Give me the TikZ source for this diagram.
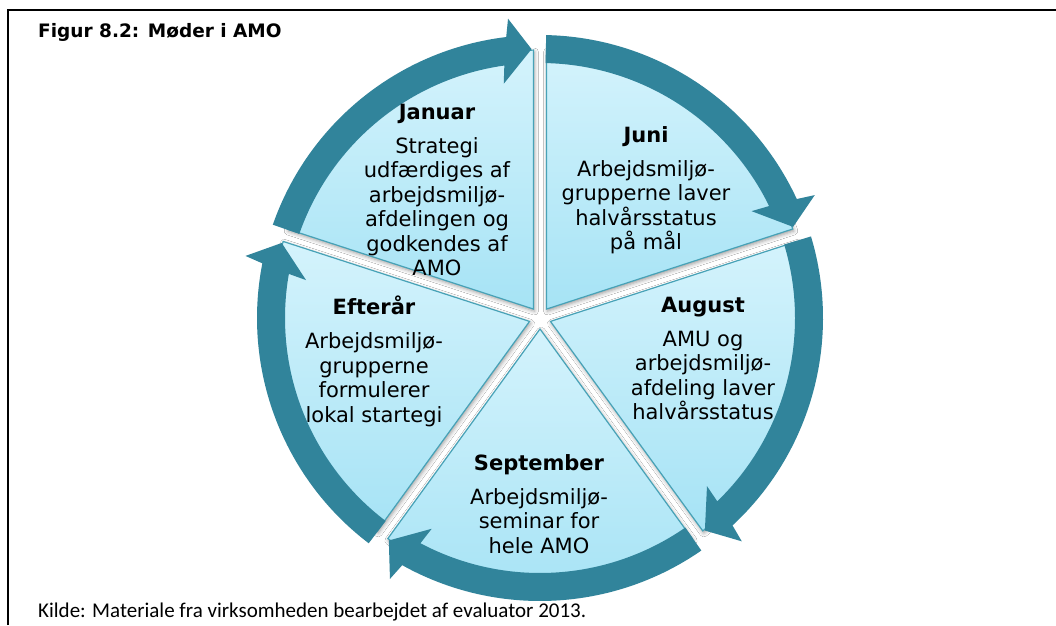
\documentclass[tikz,border=0pt]{standalone}
\usepackage{fontspec}
\setmainfont{DejaVu Sans}
\newfontfamily\capfont{Carlito}
\usetikzlibrary{shadows.blur}

\definecolor{ring}{HTML}{31849B}
\definecolor{wedgetop}{HTML}{D4F3FC}
\definecolor{wedgebot}{HTML}{A6E3F5}
\definecolor{wedgeline}{HTML}{47A2B7}

\tikzset{
  wedgeshadow/.style={blur shadow={shadow xshift=1pt, shadow yshift=-2pt,
      shadow blur radius=4pt, shadow opacity=40}},
  wedge/.style={draw=wedgeline, line width=1.2pt,
      top color=wedgetop, bottom color=wedgebot},
  ringarrow/.style={fill=ring, draw=none},
  wtext/.style={align=center, anchor=north, inner sep=0pt,
      font=\fontsize{21}{24.5}\selectfont},
  frameline/.style={line width=2pt, black},
}

% one pie segment between two gap directions (#2 > #3), drawn with style #1
\newcommand\drawwedge[3]{%
  \pgfmathsetmacro\wgMid{(#2+#3)/2}%
  \pgfmathsetmacro\wgA{#2-1.4}%
  \pgfmathsetmacro\wgB{#3+1.4}%
  \path[#1] (\wgMid:11) -- (\wgA:268)
    arc[start angle=\wgA, end angle=\wgB, radius=268] -- cycle;%
}

% curved arrow on the ring, clockwise from tail angle #1 to tip angle #2
\newcommand\cyclearrow[2]{%
  \pgfmathsetmacro\cyAo{#2+5.06}%
  \pgfmathsetmacro\cyAi{#2+6.24}%
  \pgfmathsetmacro\cyHo{#2+4.3}%
  \pgfmathsetmacro\cyHi{#2+7}%
  \path[ringarrow] (#1:283) arc[start angle=#1, end angle=\cyAo, radius=283]
    -- (\cyHo:301) -- (#2:269) -- (\cyHi:237) -- (\cyAi:255)
    arc[start angle=\cyAi, end angle=#1, radius=255] -- cycle;%
}

\begin{document}
\begin{tikzpicture}[x=1pt, y=1pt]
  \useasboundingbox (0,0) rectangle (1056,625);
  \fill[white] (0,0) rectangle (1056,625);

  % frame
  \draw[frameline] (8,0) -- (8,615) -- (1056,615);

  % title and source line
  \node[anchor=base west, inner sep=0pt,
        font=\fontsize{18.5}{22}\selectfont\bfseries] (title) at (38,587)
        {Figur 8.2: Møder i AMO};
  \node[anchor=base west, inner sep=0pt,
        font=\capfont\fontsize{21}{25}\selectfont] (source) at (38,8)
        {Kilde: Materiale fra virksomheden bearbejdet af evaluator 2013.};

  \begin{scope}[shift={(540,307)}]
    % shadows first, so no shadow falls on a neighbouring segment
    \drawwedge{wedgeshadow}{162}{90}
    \drawwedge{wedgeshadow}{90}{18}
    \drawwedge{wedgeshadow}{18}{-54}
    \drawwedge{wedgeshadow}{-54}{-126}
    \drawwedge{wedgeshadow}{-126}{-198}
    % segments
    \drawwedge{wedge}{162}{90}
    \drawwedge{wedge}{90}{18}
    \drawwedge{wedge}{18}{-54}
    \drawwedge{wedge}{-54}{-126}
    \drawwedge{wedge}{-126}{-198}
    % arrows of the cycle
    \cyclearrow{160.75}{91.8}
    \cyclearrow{88.75}{19.8}
    \cyclearrow{16.75}{-52.2}
    \cyclearrow{-55.25}{-124.2}
    \cyclearrow{232.75}{163.8}
  \end{scope}

  % segment texts
  \node[wtext] (jan) at (437,522)
    {\rule{0pt}{16pt}\textbf{Januar}\\[9.5pt]Strategi\\udfærdiges af\\arbejdsmiljø-\\afdelingen og\\godkendes af\\AMO};
  \node[wtext] (jun) at (646,499)
    {\rule{0pt}{16pt}\textbf{Juni}\\[9.5pt]Arbejdsmiljø-\\grupperne laver\\halvårsstatus\\på mål};
  \node[wtext] (aug) at (703,329)
    {\rule{0pt}{16pt}\textbf{August}\\[9.5pt]AMU og\\arbejdsmiljø-\\afdeling laver\\halvårsstatus};
  \node[wtext] (sep) at (539,171)
    {\rule{0pt}{16pt}\textbf{September}\\[9.5pt]Arbejdsmiljø-\\seminar for\\hele AMO};
  \node[wtext] (eft) at (374,329)
    {\rule{0pt}{16pt}\textbf{Efterår}\\[9.5pt]Arbejdsmiljø-\\grupperne\\formulerer\\lokal startegi};
\end{tikzpicture}
\end{document}
